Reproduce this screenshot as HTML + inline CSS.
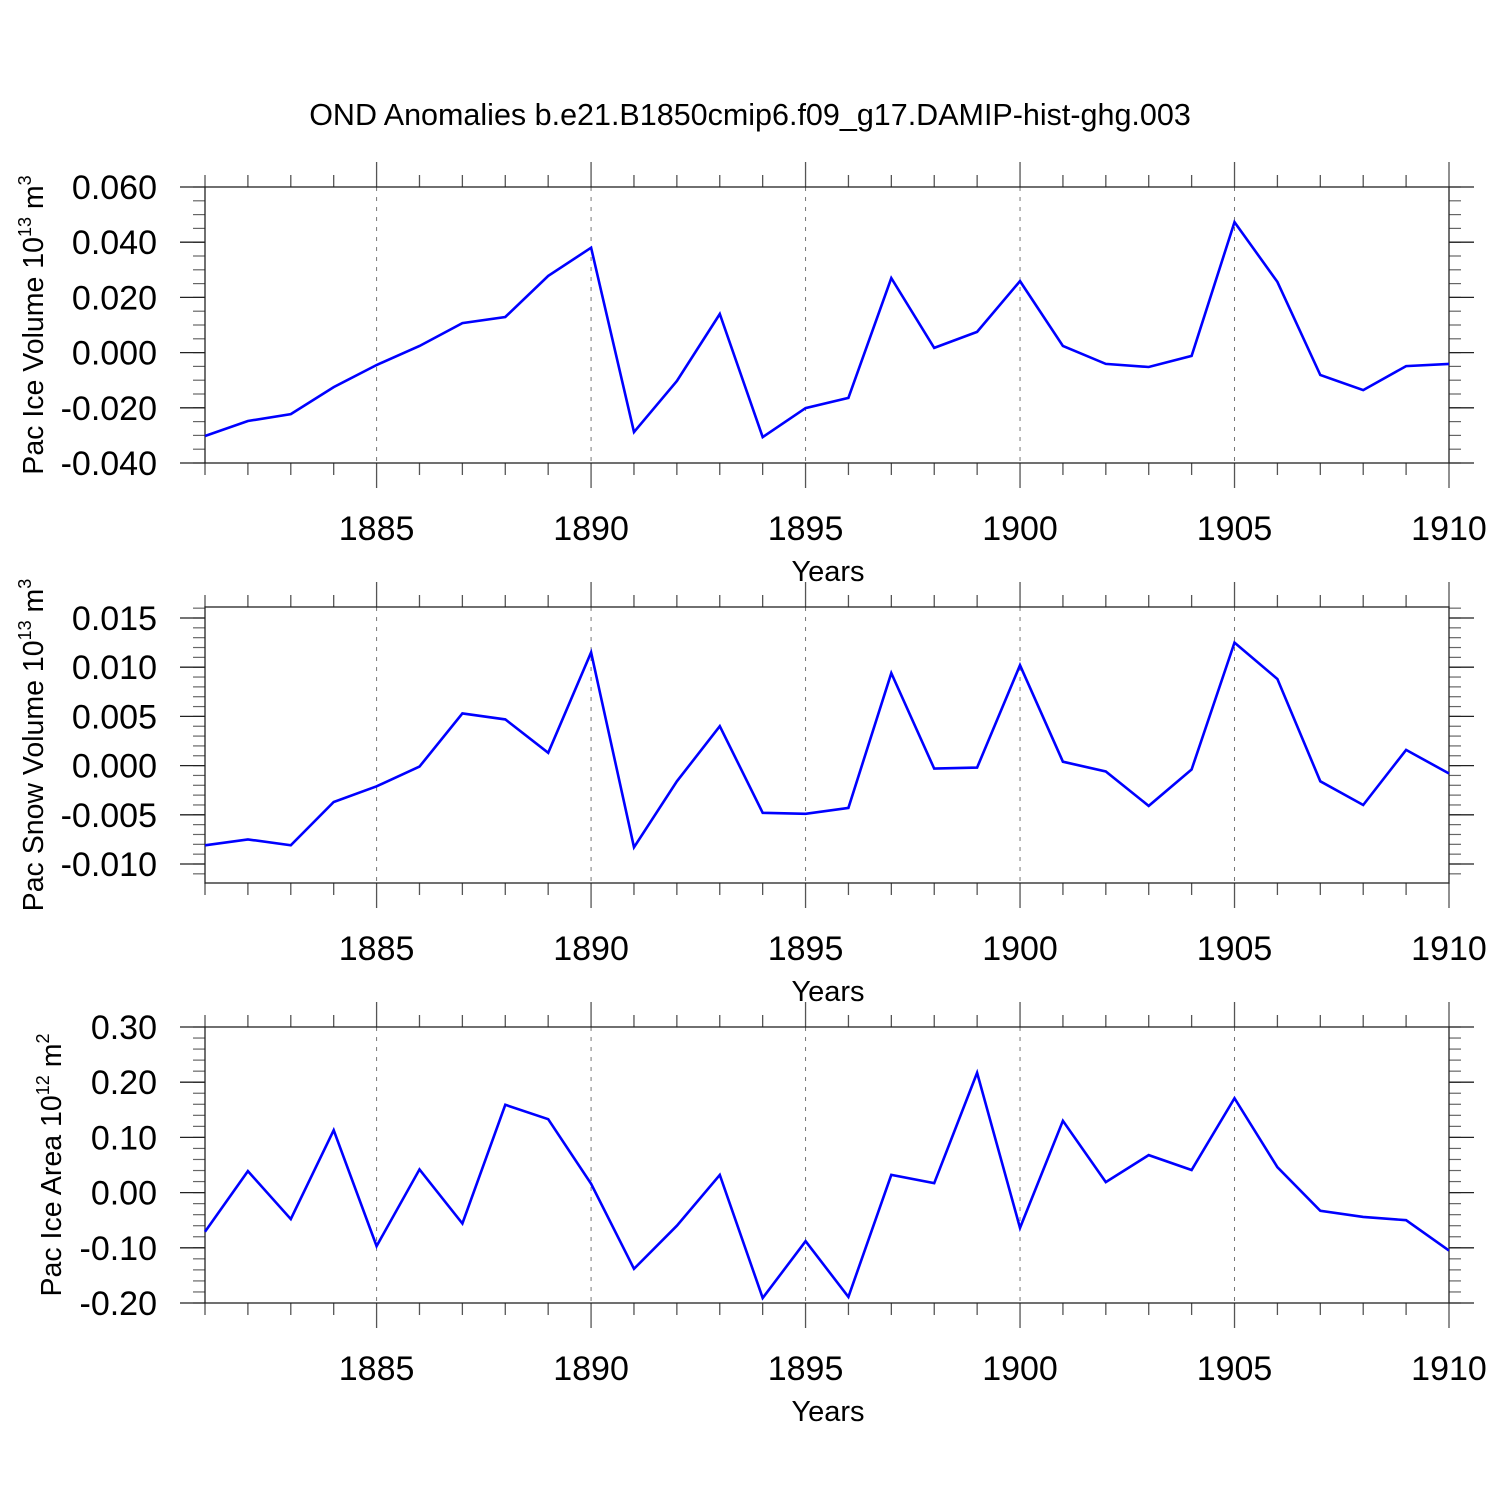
<!DOCTYPE html>
<html><head><meta charset="utf-8"><style>
html,body{margin:0;padding:0;background:#fff;}
svg{display:block;font-family:"Liberation Sans",sans-serif;}
</style></head><body>
<svg id="chart" width="1500" height="1500" viewBox="0 0 1500 1500" xmlns="http://www.w3.org/2000/svg">
<rect width="1500" height="1500" fill="#fff"/>
<text x="750" y="125" text-anchor="middle" font-size="30.5">OND Anomalies b.e21.B1850cmip6.f09_g17.DAMIP-hist-ghg.003</text>
</svg>
<script>
const years = [1881,1882,1883,1884,1885,1886,1887,1888,1889,1890,1891,1892,1893,1894,1895,1896,1897,1898,1899,1900,1901,1902,1903,1904,1905,1906,1907,1908,1909,1910];
const iceVolume = [-0.0302,-0.0248,-0.0223,-0.0125,-0.0045,0.0024,0.0107,0.0129,0.0278,0.0380,-0.0288,-0.0103,0.0140,-0.0306,-0.0201,-0.0164,0.0270,0.0017,0.0075,0.0259,0.0024,-0.0041,-0.0052,-0.0012,0.0473,0.0256,-0.0081,-0.0136,-0.0049,-0.0041];
const snowVolume = [-0.0081,-0.0075,-0.0081,-0.0037,-0.0021,-0.0001,0.0053,0.0047,0.0013,0.0115,-0.0083,-0.0016,0.0040,-0.0048,-0.0049,-0.0043,0.0094,-0.0003,-0.0002,0.0102,0.0004,-0.0006,-0.0041,-0.0004,0.0125,0.0088,-0.0016,-0.0040,0.0016,-0.0008];
const iceArea = [-0.071,0.039,-0.048,0.113,-0.097,0.042,-0.056,0.159,0.133,0.016,-0.138,-0.060,0.032,-0.191,-0.088,-0.189,0.032,0.017,0.217,-0.064,0.130,0.019,0.068,0.041,0.171,0.046,-0.033,-0.044,-0.050,-0.105];
const xTickLabels = [1885,1890,1895,1900,1905,1910];
const iceVolTicks = [0.06,0.04,0.02,0.0,-0.02,-0.04];
const snowTicks = [0.015,0.010,0.005,0.0,-0.005,-0.010];
const areaTicks = [0.30,0.20,0.10,0.0,-0.10,-0.20];

const NS="http://www.w3.org/2000/svg";
const svg=document.getElementById('chart');
const X0=205,X1=1449;
function xs(yr){return X0+(yr-1881)/(1910-1881)*(X1-X0);}
function mk(tag,attrs,parent){const e=document.createElementNS(NS,tag);for(const k in attrs)e.setAttribute(k,attrs[k]);(parent||svg).appendChild(e);return e;}

const panels=[
 {name:'ice-volume',top:187,bot:463,vtop:0.06,vbot:-0.04,data:iceVolume,ticks:iceVolTicks,dec:3,minor:0.005,title:'Pac Ice Volume 10',sup:'13',unit:' m',usup:'3',tx:33},
 {name:'snow-volume',top:607,bot:883,vtop:0.015+11/9840,vbot:-0.010-19/9840,data:snowVolume,ticks:snowTicks,dec:3,minor:0.001,title:'Pac Snow Volume 10',sup:'13',unit:' m',usup:'3',tx:33},
 {name:'ice-area',top:1027,bot:1303,vtop:0.30,vbot:-0.20,data:iceArea,ticks:areaTicks,dec:2,minor:0.02,title:'Pac Ice Area 10',sup:'12',unit:' m',usup:'2',tx:51}
];

panels.forEach(p=>{
 const g=mk('g',{});
 
 
 const ys=v=>p.top+(p.vtop-v)/(p.vtop-p.vbot)*(p.bot-p.top);
 xTickLabels.forEach(yr=>{
  if(yr===1910)return;
  const l=mk('line',{x1:xs(yr),x2:xs(yr),y1:p.top,y2:p.bot,stroke:'#777','stroke-width':1,'stroke-dasharray':'4,6'},g);
  
  
 });
 years.forEach(yr=>{
  const major=xTickLabels.includes(yr);
  const len=major?25:12;
  mk('line',{x1:xs(yr),x2:xs(yr),y1:p.bot,y2:p.bot+len,stroke:'#555','stroke-width':1.3},g);
  mk('line',{x1:xs(yr),x2:xs(yr),y1:p.top,y2:p.top-len,stroke:'#555','stroke-width':1.3},g);
 });
 const start=Math.ceil(p.vbot/p.minor-1e-6);
 for(let i=start;i*p.minor<=p.vtop+1e-9;i++){
  const v=i*p.minor,y=ys(v);
  mk('line',{x1:X0-12,x2:X0,y1:y,y2:y,stroke:'#666','stroke-width':1.2},g);
  mk('line',{x1:X1,x2:X1+12,y1:y,y2:y,stroke:'#666','stroke-width':1.2},g);
 }
 p.ticks.forEach(v=>{
  const y=ys(v);
  mk('line',{x1:X0-25,x2:X0,y1:y,y2:y,stroke:'#222','stroke-width':1.3},g);
  mk('line',{x1:X1,x2:X1+25,y1:y,y2:y,stroke:'#222','stroke-width':1.3},g);
  const t=mk('text',{x:157,y:y+12,'text-anchor':'end','font-size':34},g);
  t.textContent=v.toFixed(p.dec);
  
  
 });
 const fr=mk('rect',{x:X0,y:p.top,width:X1-X0,height:p.bot-p.top,fill:'none',stroke:'#222','stroke-width':1.3},g);
 
 
 xTickLabels.forEach(yr=>{
  const t=mk('text',{x:xs(yr),y:p.bot+77,'text-anchor':'middle','font-size':34},g);
  t.textContent=yr;
  
  
 });
 const xt=mk('text',{x:828,y:p.bot+118,'text-anchor':'middle','font-size':29},g);
 xt.textContent='Years';
 
 
 const cy=(p.top+p.bot)/2;
 const yt=mk('text',{x:0,y:0,'text-anchor':'middle','font-size':28.5,transform:'translate('+(p.tx+10)+','+cy+') rotate(-90)'},g);
 
 
 const s1=mk('tspan',{},yt);s1.textContent=p.title;
 const s2=mk('tspan',{dy:-12,'font-size':18},yt);s2.textContent=p.sup;
 const s3=mk('tspan',{dy:12},yt);s3.textContent=p.unit;
 const s4=mk('tspan',{dy:-12,'font-size':18},yt);s4.textContent=p.usup;
 const pts=p.data.map((v,i)=>xs(years[i]).toFixed(1)+','+ys(v).toFixed(1)).join(' ');
 const pl=mk('polyline',{points:pts,fill:'none',stroke:'#0000ff','stroke-width':2.6,'stroke-linejoin':'miter'},g);
 
 
});
</script>
</body></html>
